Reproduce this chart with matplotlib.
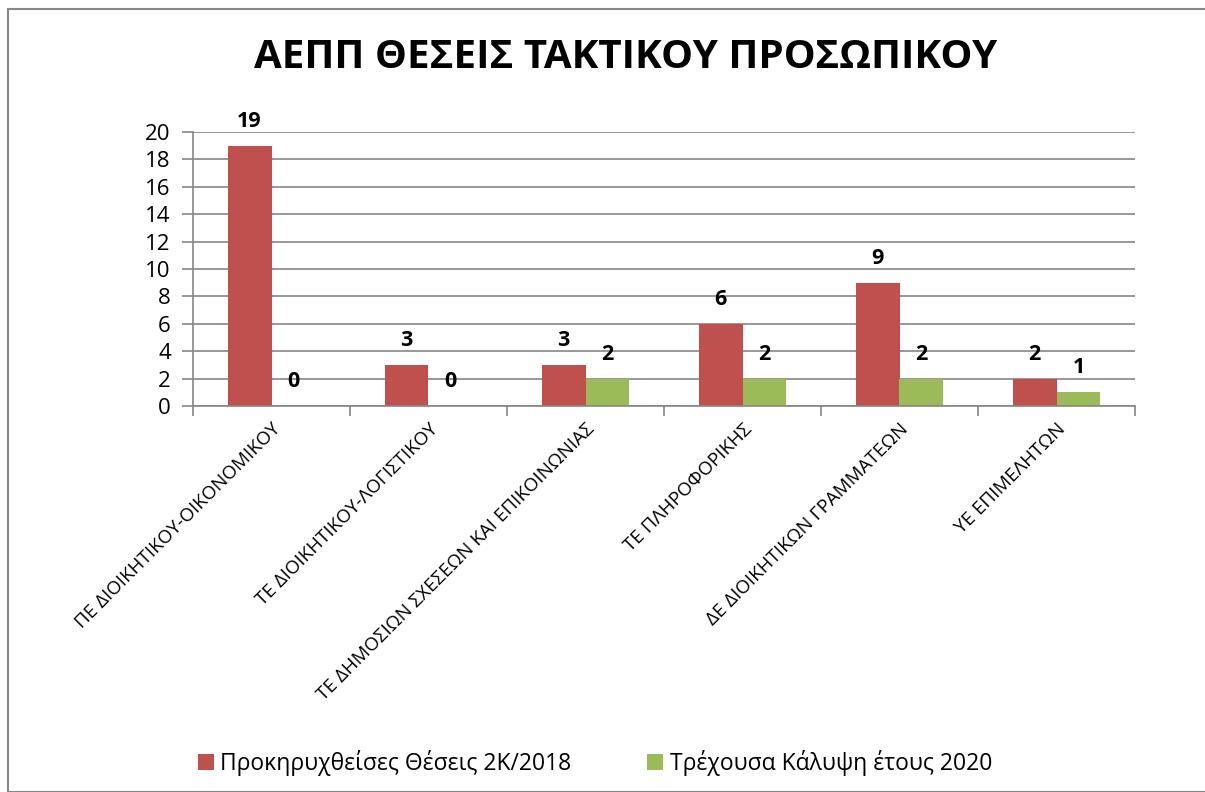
import matplotlib
matplotlib.use("Agg")
import matplotlib.pyplot as plt
import numpy as np
from matplotlib.patches import Rectangle

plt.rcParams['font.family'] = ['Open Sans', 'DejaVu Sans']

title = "ΑΕΠΠ ΘΕΣΕΙΣ ΤΑΚΤΙΚΟΥ ΠΡΟΣΩΠΙΚΟΥ"
categories = ["ΠΕ ΔΙΟΙΚΗΤΙΚΟΥ-ΟΙΚΟΝΟΜΙΚΟΥ", "ΤΕ ΔΙΟΙΚΗΤΙΚΟΥ-ΛΟΓΙΣΤΙΚΟΥ",
              "ΤΕ ΔΗΜΟΣΙΩΝ ΣΧΕΣΕΩΝ ΚΑΙ ΕΠΙΚΟΙΝΩΝΙΑΣ", "ΤΕ ΠΛΗΡΟΦΟΡΙΚΗΣ",
              "ΔΕ ΔΙΟΙΚΗΤΙΚΩΝ ΓΡΑΜΜΑΤΕΩΝ", "ΥΕ ΕΠΙΜΕΛΗΤΩΝ"]
series_names = ["Προκηρυχθείσες Θέσεις 2Κ/2018", "Τρέχουσα Κάλυψη έτους 2020"]
announced = [19, 3, 3, 6, 9, 2]
current = [0, 0, 2, 2, 2, 1]
colors = ["#C0504D", "#9BBB59"]

W, H = 1205, 792
fig = plt.figure(figsize=(W / 100, H / 100), dpi=100)
fig.patches.append(Rectangle((8 / W, 0), 1.5, (H - 9) / H, transform=fig.transFigure,
                             fill=False, edgecolor="#878787", linewidth=1.5))

ax = fig.add_axes([193 / W, 1 - 406 / H, (1135 - 193) / W, (406 - 132) / H])
x = np.arange(len(categories))
bw = 0.28
b1 = ax.bar(x - bw / 2, announced, bw, color=colors[0], label=series_names[0])
b2 = ax.bar(x + bw / 2, current, bw, color=colors[1], label=series_names[1])

for bars, vals in ((b1, announced), (b2, current)):
    for rect, v in zip(bars, vals):
        ax.annotate(str(v), (rect.get_x() + rect.get_width() / 2, v),
                    xytext=(0, 10), textcoords="offset points", ha="center", va="bottom",
                    fontsize=15.5, fontweight="bold")

ax.set_xlim(-0.5, len(categories) - 0.5)
ax.set_ylim(0, 20)
ax.set_yticks(range(0, 21, 2))
ax.yaxis.grid(True, color="#868686", linewidth=1.2)
ax.set_axisbelow(True)
for s in ("top", "right"):
    ax.spines[s].set_visible(False)
ax.spines["left"].set_color("#868686")
ax.spines["bottom"].set_color("#868686")
ax.spines["left"].set_linewidth(1.2)
ax.spines["bottom"].set_linewidth(1.2)
ax.tick_params(axis="y", labelsize=16, length=8, color="#868686", width=1.2, pad=8)
ax.set_xticks(np.arange(-0.5, len(categories), 1.0))
ax.set_xticklabels([])
ax.tick_params(axis="x", length=7, color="#868686", width=1.2, direction="out")
ax.set_xticks(x, minor=True)
ax.set_xticklabels(categories, minor=True, rotation=45, ha="right", rotation_mode="anchor",
                   fontsize=13.5)
ax.tick_params(axis="x", which="minor", length=0, pad=10)

fig.text(0.519, 1 - 57 / H, title, ha="center", va="center", fontsize=29, fontweight="bold")

fig.legend(handles=[b1, b2], labels=series_names, loc="center", bbox_to_anchor=(595 / W, 1 - 763 / H),
           ncol=2, frameon=False, fontsize=16.5, handlelength=0.7, handleheight=0.7,
           columnspacing=3.3, handletextpad=0.3)

fig.savefig("out.png", dpi=100)
